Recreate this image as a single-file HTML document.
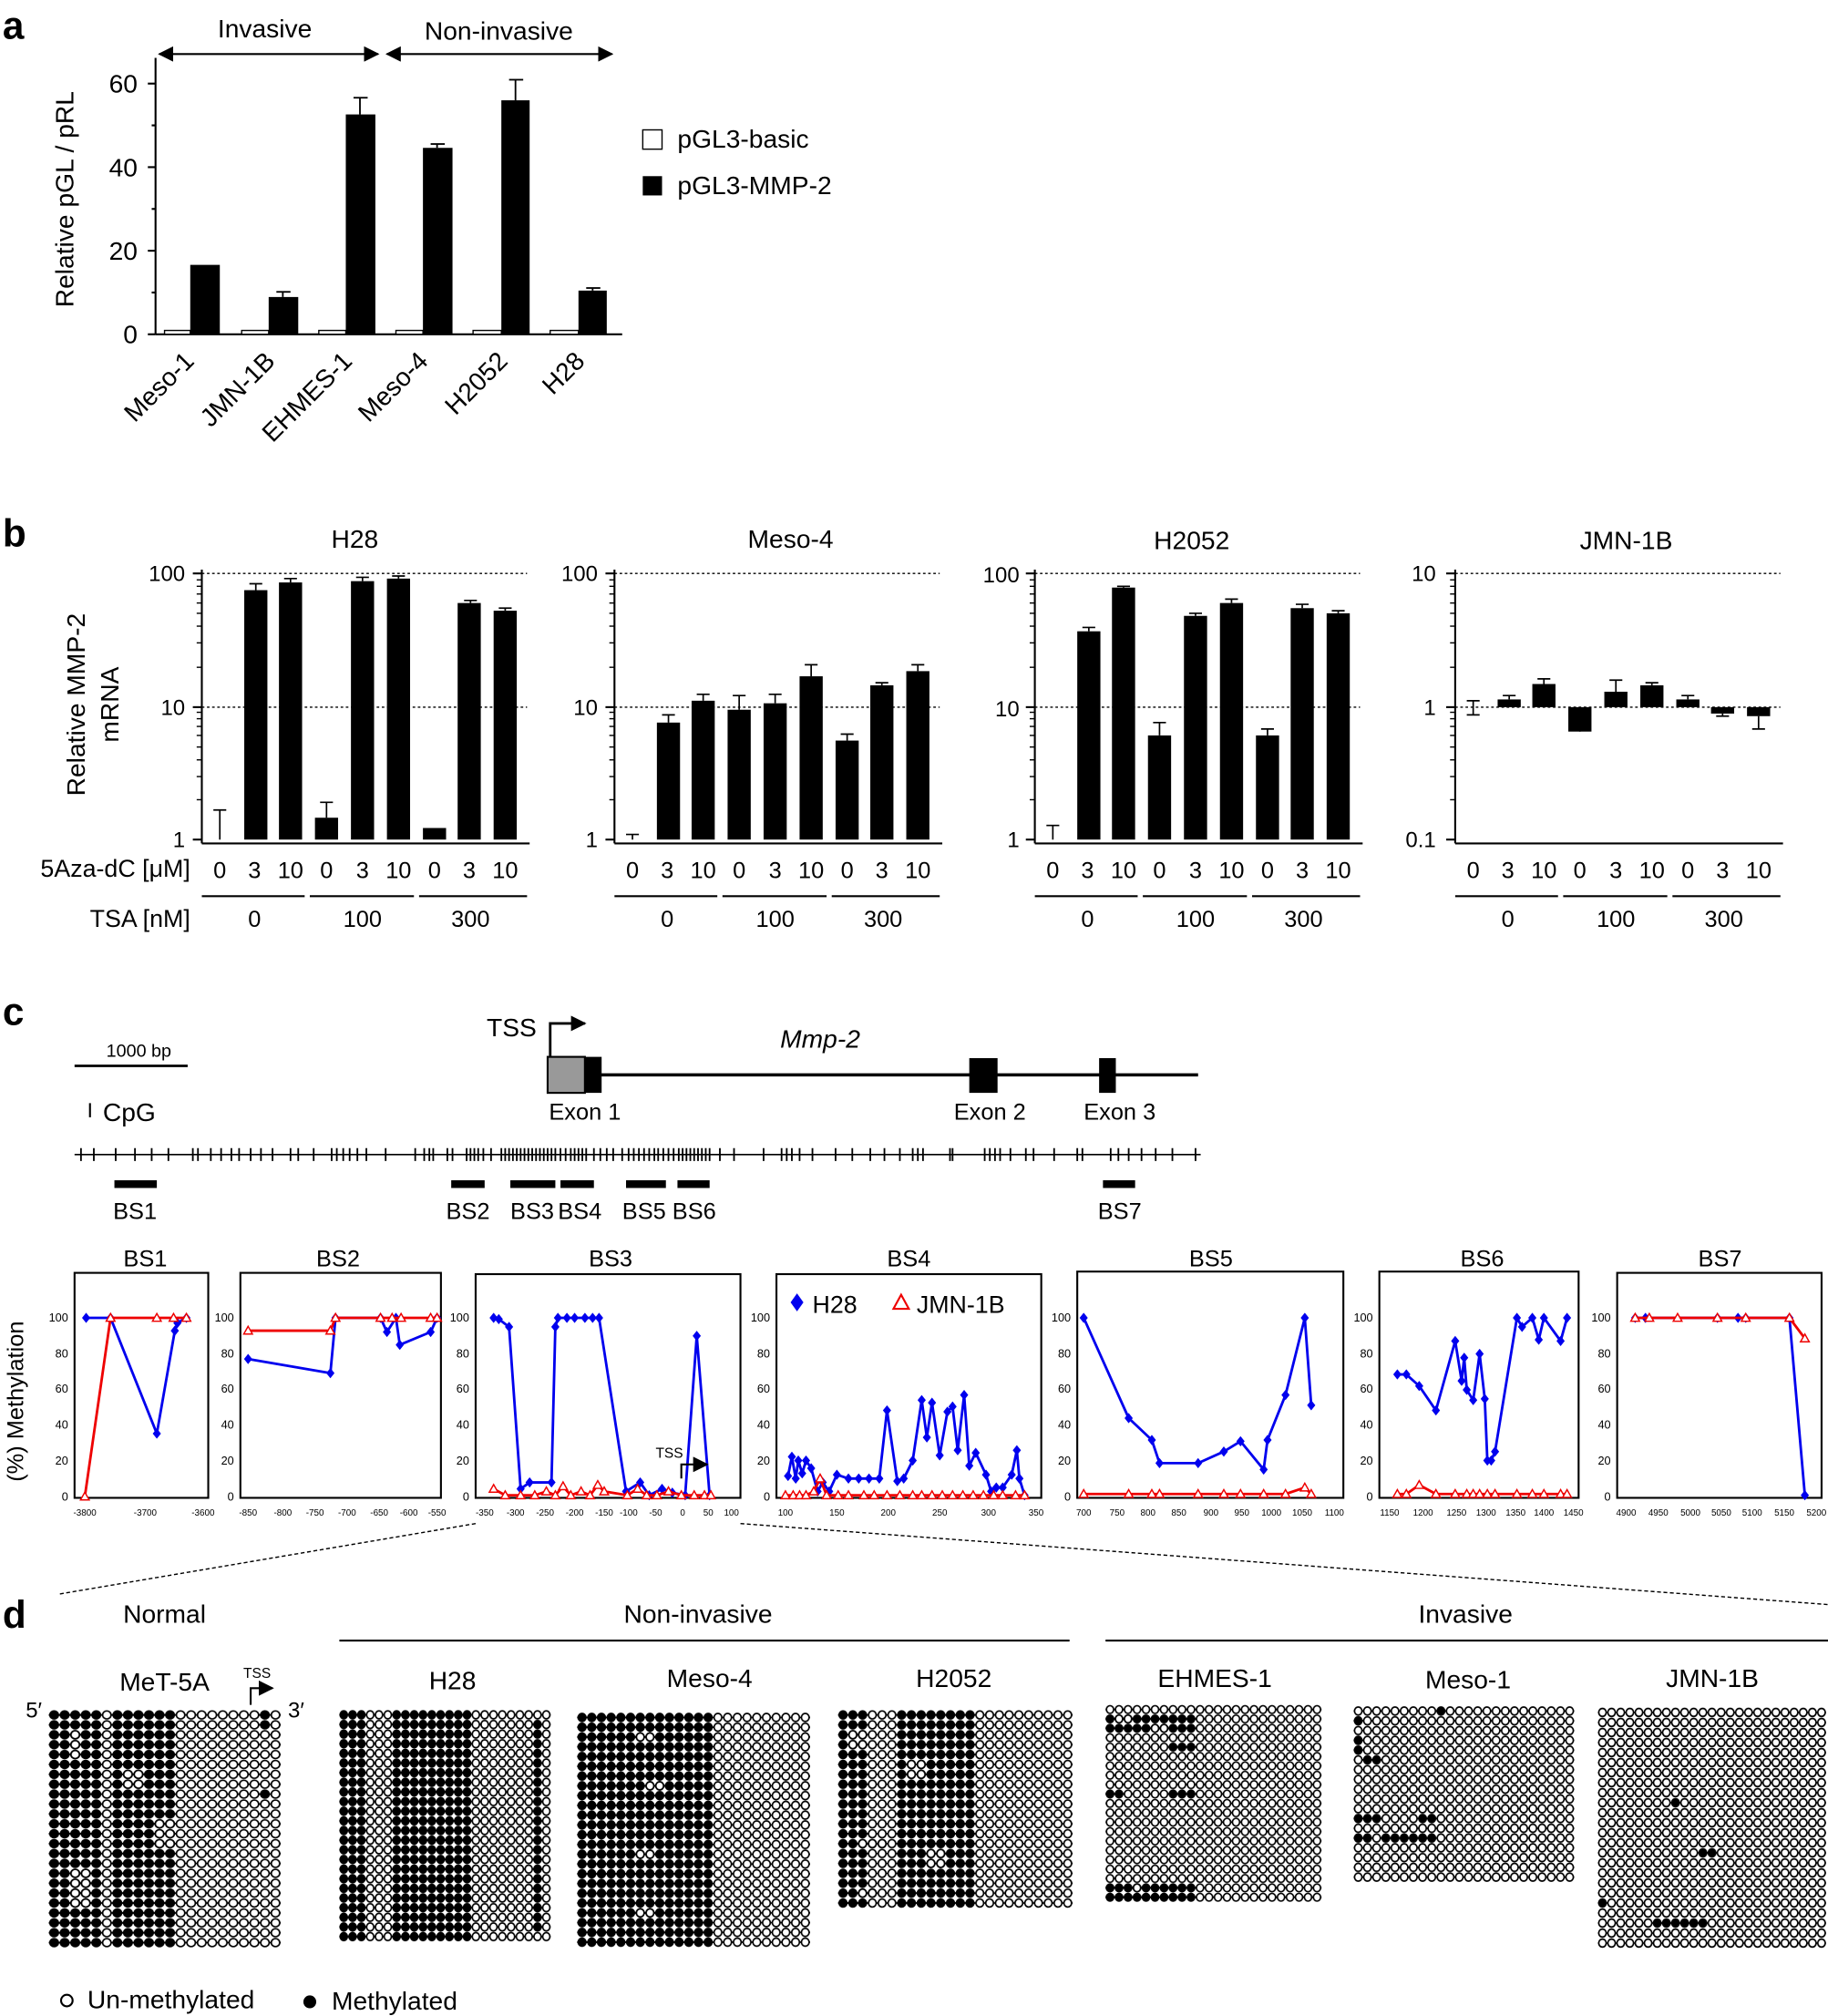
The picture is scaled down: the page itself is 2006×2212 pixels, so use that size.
<!DOCTYPE html>
<html><head><meta charset="utf-8"><style>html,body{margin:0;padding:0;background:#fff}svg{display:block}text{font-family:"Liberation Sans",sans-serif}</style></head><body>
<svg width="2006" height="2212" viewBox="0 0 1422 1568" xmlns="http://www.w3.org/2000/svg">
<defs>
<marker id="dm" viewBox="-5 -5 10 10" markerWidth="8" markerHeight="8" markerUnits="userSpaceOnUse"><path d="M0,-5L4,0L0,5L-4,0Z" fill="#0000ee"/></marker>
<marker id="tm" viewBox="-6 -6 12 12" markerWidth="9" markerHeight="9" markerUnits="userSpaceOnUse"><path d="M0,-4.5L4.5,3.5L-4.5,3.5Z" fill="#fff" stroke="#ee0000" stroke-width="1.4"/></marker>
<marker id="ar" viewBox="0 0 10 10" refX="9" refY="5" markerWidth="12" markerHeight="12" markerUnits="userSpaceOnUse" orient="auto"><path d="M0,0L10,5L0,10Z" fill="#000"/></marker>
<marker id="al" viewBox="0 0 10 10" refX="1" refY="5" markerWidth="12" markerHeight="12" markerUnits="userSpaceOnUse" orient="auto"><path d="M10,0L0,5L10,10Z" fill="#000"/></marker>
</defs>

<!-- panel letters -->
<g font-weight="bold" font-size="30">
<text x="2" y="30">a</text><text x="2" y="425">b</text><text x="2" y="797">c</text><text x="2" y="1266">d</text></g>

<!-- ===== Panel a ===== -->
<g stroke="#000" stroke-width="1.5" fill="none">
<line x1="121" y1="45" x2="121" y2="260"/><line x1="121" y1="260" x2="484" y2="260"/>
<line x1="115" y1="65" x2="121" y2="65"/><line x1="115" y1="130" x2="121" y2="130"/><line x1="115" y1="195" x2="121" y2="195"/><line x1="115" y1="260" x2="121" y2="260"/>
<line x1="118" y1="97.5" x2="121" y2="97.5"/><line x1="118" y1="162.5" x2="121" y2="162.5"/><line x1="118" y1="227.5" x2="121" y2="227.5"/>
<line x1="124" y1="42" x2="294" y2="42" marker-start="url(#al)" marker-end="url(#ar)"/>
<line x1="301" y1="42" x2="476" y2="42" marker-start="url(#al)" marker-end="url(#ar)"/>
</g>
<g font-size="20" text-anchor="end"><text x="107" y="72">60</text><text x="107" y="137">40</text><text x="107" y="202">20</text><text x="107" y="267">0</text></g>
<text x="206" y="29" font-size="20" text-anchor="middle">Invasive</text>
<text x="388" y="31" font-size="20" text-anchor="middle">Non-invasive</text>
<text transform="translate(57,155) rotate(-90)" font-size="20" text-anchor="middle">Relative pGL / pRL</text>
<g fill="#fff" stroke="#000" stroke-width="1">
<rect x="128" y="257" width="20" height="3"/><rect x="188" y="257" width="21" height="3"/><rect x="248" y="257" width="21" height="3"/><rect x="308" y="257" width="21" height="3"/><rect x="368" y="257" width="22" height="3"/><rect x="428" y="257" width="22" height="3"/></g>
<g fill="#000">
<rect x="148" y="206" width="23" height="54"/><rect x="209" y="231" width="23" height="29"/><rect x="269" y="89" width="23" height="171"/><rect x="329" y="115" width="23" height="145"/><rect x="390" y="78" width="22" height="182"/><rect x="450" y="226" width="22" height="34"/></g>
<g stroke="#000" stroke-width="1.3">
<line x1="220" y1="231" x2="220" y2="227"/><line x1="215" y1="227" x2="226" y2="227"/>
<line x1="280" y1="89" x2="280" y2="76"/><line x1="275" y1="76" x2="286" y2="76"/>
<line x1="340" y1="115" x2="340" y2="112"/><line x1="335" y1="112" x2="346" y2="112"/>
<line x1="401" y1="78" x2="401" y2="62"/><line x1="396" y1="62" x2="407" y2="62"/>
<line x1="461" y1="226" x2="461" y2="224"/><line x1="456" y1="224" x2="467" y2="224"/></g>
<g font-size="20" text-anchor="end">
<text transform="translate(152,282) rotate(-45)">Meso-1</text>
<text transform="translate(215,282) rotate(-45)">JMN-1B</text>
<text transform="translate(275,282) rotate(-45)">EHMES-1</text>
<text transform="translate(334,282) rotate(-45)">Meso-4</text>
<text transform="translate(396,282) rotate(-45)">H2052</text>
<text transform="translate(456,282) rotate(-45)">H28</text></g>
<rect x="500" y="101" width="15" height="15" fill="#fff" stroke="#000"/><rect x="500" y="137" width="15" height="15" fill="#000"/>
<text x="527" y="115" font-size="20">pGL3-basic</text><text x="527" y="151" font-size="20">pGL3-MMP-2</text>

<!-- ===== Panel b ===== -->
<text transform="translate(66,548) rotate(-90)" font-size="20" text-anchor="middle">Relative MMP-2</text>
<text transform="translate(92,548) rotate(-90)" font-size="20" text-anchor="middle">mRNA</text>
<g font-size="19" text-anchor="end"><text x="148" y="682">5Aza-dC [μM]</text><text x="148" y="721">TSA [nM]</text></g>
<g font-size="20" text-anchor="middle"><text x="276" y="426">H28</text><text x="615" y="426">Meso-4</text><text x="927" y="427">H2052</text><text x="1265" y="427">JMN-1B</text></g>

<!-- subplot template drawn per offset -->
<g id="sub1">
<g stroke="#000" stroke-width="1" stroke-dasharray="2,2"><line x1="157" y1="446" x2="410" y2="446"/><line x1="157" y1="550" x2="410" y2="550"/></g>
<g stroke="#000" stroke-width="1.5"><line x1="157" y1="443" x2="157" y2="656"/><line x1="157" y1="656" x2="412" y2="656"/>
<line x1="150" y1="446" x2="157" y2="446"/><line x1="150" y1="550" x2="157" y2="550"/><line x1="150" y1="653" x2="157" y2="653"/></g>
<g stroke="#000" stroke-width="1"><line x1="153" y1="519" x2="157" y2="519"/><line x1="153" y1="500" x2="157" y2="500"/><line x1="153" y1="487" x2="157" y2="487"/><line x1="153" y1="477" x2="157" y2="477"/><line x1="153" y1="469" x2="157" y2="469"/><line x1="153" y1="462" x2="157" y2="462"/><line x1="153" y1="456" x2="157" y2="456"/><line x1="153" y1="451" x2="157" y2="451"/>
<line x1="153" y1="622" x2="157" y2="622"/><line x1="153" y1="604" x2="157" y2="604"/><line x1="153" y1="591" x2="157" y2="591"/><line x1="153" y1="581" x2="157" y2="581"/><line x1="153" y1="572" x2="157" y2="572"/><line x1="153" y1="565" x2="157" y2="565"/><line x1="153" y1="559" x2="157" y2="559"/><line x1="153" y1="554" x2="157" y2="554"/></g>
<g stroke="#000" stroke-width="1.5"><line x1="157" y1="697" x2="237" y2="697"/><line x1="241" y1="697" x2="322" y2="697"/><line x1="326" y1="697" x2="410" y2="697"/></g>
<g font-size="18" text-anchor="middle"><text x="171" y="683">0</text><text x="198" y="683">3</text><text x="226" y="683">10</text><text x="254" y="683">0</text><text x="282" y="683">3</text><text x="310" y="683">10</text><text x="338" y="683">0</text><text x="365" y="683">3</text><text x="393" y="683">10</text>
<text x="198" y="721">0</text><text x="282" y="721">100</text><text x="366" y="721">300</text></g>
</g>
<use href="#sub1" x="321"/><use href="#sub1" x="648"/><use href="#sub1" x="975"/>
<g font-size="17" text-anchor="end">
<text x="144" y="452">100</text><text x="144" y="556">10</text><text x="144" y="659">1</text>
<text x="465" y="452">100</text><text x="465" y="556">10</text><text x="465" y="659">1</text>
<text x="793" y="453">100</text><text x="793" y="557">10</text><text x="793" y="659">1</text>
<text x="1117" y="452">10</text><text x="1117" y="556">1</text><text x="1117" y="659">0.1</text></g>
<!-- bars H28 -->
<g fill="#000">
<rect x="190" y="459" width="18" height="194"/><rect x="217" y="453" width="18" height="200"/><rect x="245" y="636" width="18" height="17"/><rect x="273" y="452" width="18" height="201"/><rect x="301" y="450" width="18" height="203"/><rect x="329" y="644" width="18" height="9"/><rect x="356" y="469" width="18" height="184"/><rect x="384" y="475" width="18" height="178"/>
<!-- Meso-4 -->
<rect x="511" y="562" width="18" height="91"/><rect x="538" y="545" width="18" height="108"/><rect x="566" y="552" width="18" height="101"/><rect x="594" y="547" width="18" height="106"/><rect x="622" y="526" width="18" height="127"/><rect x="650" y="576" width="18" height="77"/><rect x="677" y="533" width="18" height="120"/><rect x="705" y="522" width="18" height="131"/>
<!-- H2052 -->
<rect x="838" y="491" width="18" height="162"/><rect x="865" y="457" width="18" height="196"/><rect x="893" y="572" width="18" height="81"/><rect x="921" y="479" width="18" height="174"/><rect x="949" y="469" width="18" height="184"/><rect x="977" y="572" width="18" height="81"/><rect x="1004" y="473" width="18" height="180"/><rect x="1032" y="477" width="18" height="176"/>
<!-- JMN-1B -->
<rect x="1165" y="544" width="18" height="6"/><rect x="1192" y="532" width="18" height="18"/><rect x="1220" y="550" width="18" height="19"/><rect x="1248" y="538" width="18" height="12"/><rect x="1276" y="533" width="18" height="17"/><rect x="1304" y="544" width="18" height="6"/><rect x="1331" y="550" width="18" height="5"/><rect x="1359" y="550" width="18" height="7"/></g>
<g stroke="#000" stroke-width="1.2" fill="none">
<path d="M171,653V630M166,630H176"/><path d="M199,459V454M194,454H204M226,453V450M221,450H231M254,636V624M249,624H259M282,452V449M277,449H287M310,450V448M305,448H315M366,469V467M361,467H371M393,475V473M388,473H398"/>
<path d="M492,653V649M487,649H497M520,562V556M515,556H525M547,545V540M542,540H552M575,552V541M570,541H580M603,547V540M598,540H608M631,526V517M626,517H636M659,576V571M654,571H664M686,533V531M681,531H691M714,522V517M709,517H719"/>
<path d="M819,653V642M814,642H824M847,491V488M842,488H852M874,457V456M869,456H879M902,572V562M897,562H907M930,479V477M925,477H935M958,469V466M953,466H963M986,572V567M981,567H991M1013,473V470M1008,470H1018M1041,477V475M1036,475H1046"/>
<path d="M1146,545V556M1141,545H1151M1141,556H1151M1174,544V541M1169,541H1179M1201,532V528M1196,528H1206M1229,569V566M1224,566H1234M1257,538V529M1252,529H1262M1285,533V531M1280,531H1290M1313,544V541M1308,541H1318M1340,555V557M1335,557H1345M1368,557V567M1363,567H1373"/></g>

<!-- ===== Panel c ===== -->
<line x1="58" y1="829" x2="146" y2="829" stroke="#000" stroke-width="2"/>
<text x="108" y="822" font-size="14" text-anchor="middle">1000 bp</text>
<line x1="70" y1="858" x2="70" y2="869" stroke="#000" stroke-width="1.5"/>
<text x="80" y="872" font-size="20">CpG</text>
<text x="398" y="806" font-size="20" text-anchor="middle">TSS</text>
<path d="M428,822V796H455" stroke="#000" stroke-width="2" fill="none" marker-end="url(#ar)"/>
<line x1="426" y1="836" x2="932" y2="836" stroke="#000" stroke-width="2.5"/>
<rect x="426" y="822" width="29" height="28" fill="#999" stroke="#000" stroke-width="1.5"/><rect x="455" y="822" width="13" height="28" fill="#000"/>
<rect x="754" y="823" width="22" height="27" fill="#000"/><rect x="855" y="823" width="13" height="27" fill="#000"/>
<text x="638" y="815" font-size="20" font-style="italic" text-anchor="middle">Mmp-2</text>
<g font-size="18" text-anchor="middle"><text x="455" y="871">Exon 1</text><text x="770" y="871">Exon 2</text><text x="871" y="871">Exon 3</text></g>
<line x1="58" y1="898" x2="934" y2="898" stroke="#000" stroke-width="1.2"/>
<path stroke="#000" stroke-width="1.3" d="M63,893v10M73,893v10M90,893v10M105,893v10M118,893v10M131,893v10M150,893v10M154,893v10M164,893v10M172,893v10M180,893v10M186,893v10M195,893v10M203,893v10M212,893v10M226,893v10M232,893v10M244,893v10M258,893v10M262,893v10M267,893v10M272,893v10M278,893v10M285,893v10M300,893v10M323,893v10M330,893v10M334,893v10M337,893v10M348,893v10M352,893v10M363,893v10M366,893v10M369,893v10M372,893v10M376,893v10M382,893v10M390,893v10M393,893v10M396,893v10M399,893v10M402,893v10M405,893v10M408,893v10M411,893v10M414,893v10M417,893v10M420,893v10M423,893v10M426,893v10M429,893v10M432,893v10M436,893v10M440,893v10M444,893v10M447,893v10M450,893v10M453,893v10M456,893v10M462,893v10M467,893v10M472,893v10M477,893v10M484,893v10M489,893v10M493,893v10M497,893v10M501,893v10M505,893v10M509,893v10M512,893v10M516,893v10M520,893v10M524,893v10M528,893v10M531,893v10M534,893v10M537,893v10M540,893v10M543,893v10M546,893v10M549,893v10M552,893v10M560,893v10M571,893v10M594,893v10M608,893v10M612,893v10M616,893v10M622,893v10M632,893v10M650,893v10M663,893v10M677,893v10M688,893v10M700,893v10M710,893v10M714,893v10M718,893v10M739,893v10M741,893v10M766,893v10M770,893v10M774,893v10M778,893v10M786,893v10M798,893v10M804,893v10M820,893v10M838,893v10M842,893v10M864,893v10M870,893v10M878,893v10M888,893v10M899,893v10M912,893v10M930,893v10"/>
<g fill="#000"><rect x="89" y="918" width="33" height="6"/><rect x="351" y="918" width="26" height="6"/><rect x="397" y="918" width="35" height="6"/><rect x="436" y="918" width="26" height="6"/><rect x="487" y="918" width="31" height="6"/><rect x="527" y="918" width="25" height="6"/><rect x="858" y="918" width="25" height="6"/></g>
<g font-size="18" text-anchor="middle"><text x="105" y="948">BS1</text><text x="364" y="948">BS2</text><text x="414" y="948">BS3</text><text x="451" y="948">BS4</text><text x="501" y="948">BS5</text><text x="540" y="948">BS6</text><text x="871" y="948">BS7</text></g>
<text transform="translate(18,1090) rotate(-90)" font-size="18" text-anchor="middle">(%) Methylation</text>

<!-- methylation boxes -->
<g font-size="18" text-anchor="middle"><text x="113" y="985">BS1</text><text x="263" y="985">BS2</text><text x="475" y="985">BS3</text><text x="707" y="985">BS4</text><text x="942" y="985">BS5</text><text x="1153" y="985">BS6</text><text x="1338" y="985">BS7</text></g>
<g fill="none" stroke="#000" stroke-width="1.5">
<rect x="58" y="990" width="104" height="175"/><rect x="187" y="990" width="156" height="175"/><rect x="370" y="991" width="206" height="174"/><rect x="604" y="991" width="206" height="174"/><rect x="838" y="989" width="207" height="176"/><rect x="1073" y="989" width="155" height="176"/><rect x="1258" y="990" width="159" height="175"/></g>
<g id="yt" font-size="9" text-anchor="end"><text x="53" y="1167">0</text><text x="53" y="1139">20</text><text x="53" y="1111">40</text><text x="53" y="1083">60</text><text x="53" y="1056">80</text><text x="53" y="1028">100</text></g>
<use href="#yt" x="129"/><use href="#yt" x="312"/><use href="#yt" x="546"/><use href="#yt" x="780"/><use href="#yt" x="1015"/><use href="#yt" x="1200"/>
<g font-size="7" text-anchor="middle">
<text x="66" y="1179">-3800</text><text x="113" y="1179">-3700</text><text x="158" y="1179">-3600</text>
<text x="193" y="1179">-850</text><text x="220" y="1179">-800</text><text x="245" y="1179">-750</text><text x="270" y="1179">-700</text><text x="295" y="1179">-650</text><text x="318" y="1179">-600</text><text x="340" y="1179">-550</text>
<text x="377" y="1179">-350</text><text x="401" y="1179">-300</text><text x="424" y="1179">-250</text><text x="447" y="1179">-200</text><text x="470" y="1179">-150</text><text x="489" y="1179">-100</text><text x="510" y="1179">-50</text><text x="531" y="1179">0</text><text x="551" y="1179">50</text><text x="569" y="1179">100</text>
<text x="611" y="1179">100</text><text x="651" y="1179">150</text><text x="691" y="1179">200</text><text x="731" y="1179">250</text><text x="769" y="1179">300</text><text x="806" y="1179">350</text>
<text x="843" y="1179">700</text><text x="869" y="1179">750</text><text x="893" y="1179">800</text><text x="917" y="1179">850</text><text x="942" y="1179">900</text><text x="966" y="1179">950</text><text x="989" y="1179">1000</text><text x="1013" y="1179">1050</text><text x="1038" y="1179">1100</text>
<text x="1081" y="1179">1150</text><text x="1107" y="1179">1200</text><text x="1133" y="1179">1250</text><text x="1156" y="1179">1300</text><text x="1179" y="1179">1350</text><text x="1201" y="1179">1400</text><text x="1224" y="1179">1450</text>
<text x="1265" y="1179">4900</text><text x="1290" y="1179">4950</text><text x="1315" y="1179">5000</text><text x="1339" y="1179">5050</text><text x="1363" y="1179">5100</text><text x="1388" y="1179">5150</text><text x="1413" y="1179">5200</text></g>

<g fill="none" stroke-width="2" stroke-linejoin="round">
<!-- BS1 -->
<polyline stroke="#0000ee" marker-start="url(#dm)" marker-mid="url(#dm)" marker-end="url(#dm)" points="67,1025 86,1025 122,1115 136,1035 138,1029 145,1025"/>
<polyline stroke="#ee0000" marker-start="url(#tm)" marker-mid="url(#tm)" marker-end="url(#tm)" points="66,1164 86,1025 122,1025 135,1025 145,1025"/>
<!-- BS2 -->
<polyline stroke="#0000ee" marker-start="url(#dm)" marker-mid="url(#dm)" marker-end="url(#dm)" points="193,1057 257,1068 261,1025 296,1025 301,1036 308,1025 311,1046 335,1036 340,1025"/>
<polyline stroke="#ee0000" marker-start="url(#tm)" marker-mid="url(#tm)" marker-end="url(#tm)" points="193,1035 257,1035 261,1025 296,1025 305,1025 312,1025 335,1025 340,1025"/>
<!-- BS3 -->
<polyline stroke="#0000ee" marker-start="url(#dm)" marker-mid="url(#dm)" marker-end="url(#dm)" points="384,1025 388,1026 396,1032 405,1158 412,1153 429,1153 432,1032 434,1025 441,1025 447,1025 455,1025 461,1025 466,1025 487,1160 498,1153 505,1163 515,1158 523,1161 533,1163 542,1039 552,1163"/>
<polyline stroke="#ee0000" marker-start="url(#tm)" marker-mid="url(#tm)" marker-end="url(#tm)" points="384,1158 393,1163 405,1163 416,1163 425,1160 432,1163 438,1156 444,1163 452,1160 459,1163 465,1155 470,1160 488,1163 496,1158 503,1163 511,1163 520,1160 530,1163 540,1163 548,1163 553,1163"/>
<!-- BS4 -->
<polyline stroke="#0000ee" marker-start="url(#dm)" marker-mid="url(#dm)" marker-end="url(#dm)" points="613,1148 616,1133 619,1150 621,1136 624,1146 627,1136 631,1142 636,1160 640,1153 645,1160 651,1147 660,1150 668,1150 676,1150 684,1150 690,1097 698,1152 703,1150 710,1136 717,1089 721,1118 725,1091 731,1132 737,1098 741,1094 745,1128 750,1085 754,1140 759,1130 767,1147 771,1160 775,1157 780,1157 787,1147 791,1128 793,1150 797,1163"/>
<polyline stroke="#ee0000" marker-start="url(#tm)" marker-mid="url(#tm)" marker-end="url(#tm)" points="611,1163 617,1163 622,1163 627,1163 633,1160 638,1150 643,1163 652,1163 660,1163 672,1163 680,1163 690,1163 700,1163 710,1163 717,1163 725,1163 733,1163 741,1163 749,1163 757,1163 765,1163 773,1163 780,1163 790,1163 797,1163"/>
<!-- BS5 -->
<polyline stroke="#0000ee" marker-start="url(#dm)" marker-mid="url(#dm)" marker-end="url(#dm)" points="843,1025 878,1103 896,1120 902,1138 932,1138 952,1129 965,1121 983,1143 986,1120 1000,1085 1015,1025 1020,1093"/>
<polyline stroke="#ee0000" marker-start="url(#tm)" marker-mid="url(#tm)" marker-end="url(#tm)" points="843,1162 878,1162 896,1162 902,1162 932,1162 952,1162 965,1162 983,1162 1000,1162 1015,1157 1020,1162"/>
<!-- BS6 -->
<polyline stroke="#0000ee" marker-start="url(#dm)" marker-mid="url(#dm)" marker-end="url(#dm)" points="1087,1069 1094,1069 1104,1078 1117,1097 1132,1043 1137,1074 1139,1056 1141,1081 1146,1089 1151,1053 1155,1088 1157,1136 1160,1136 1163,1129 1180,1025 1184,1032 1192,1025 1197,1042 1201,1025 1214,1043 1219,1025"/>
<polyline stroke="#ee0000" marker-start="url(#tm)" marker-mid="url(#tm)" marker-end="url(#tm)" points="1087,1162 1094,1162 1104,1155 1117,1162 1132,1162 1141,1162 1146,1162 1151,1162 1157,1162 1163,1162 1180,1162 1192,1162 1201,1162 1214,1162 1219,1162"/>
<!-- BS7 -->
<polyline stroke="#0000ee" marker-start="url(#dm)" marker-mid="url(#dm)" marker-end="url(#dm)" points="1272,1025 1280,1025 1336,1025 1352,1025 1358,1025 1392,1025 1404,1163"/>
<polyline stroke="#ee0000" marker-start="url(#tm)" marker-mid="url(#tm)" marker-end="url(#tm)" points="1272,1025 1283,1025 1305,1025 1336,1025 1358,1025 1392,1025 1404,1041"/>
</g>
<path d="M620,1006L625,1013L620,1020L615,1013Z" fill="#0000ee"/><text x="632" y="1021" font-size="19">H28</text>
<path d="M701,1007L707,1018L695,1018Z" fill="none" stroke="#ee0000" stroke-width="1.5"/><text x="713" y="1021" font-size="19">JMN-1B</text>
<text x="510" y="1134" font-size="11">TSS</text>
<path d="M530,1150V1139H550" stroke="#000" stroke-width="1.5" fill="none" marker-end="url(#ar)"/>
<g stroke="#000" stroke-width="1" stroke-dasharray="3,2"><line x1="370" y1="1185" x2="45" y2="1240"/><line x1="576" y1="1185" x2="1422" y2="1248"/></g>

<!-- ===== Panel d ===== -->
<g font-size="20" text-anchor="middle"><text x="128" y="1262">Normal</text><text x="543" y="1262">Non-invasive</text><text x="1140" y="1262">Invasive</text>
<text x="128" y="1315">MeT-5A</text><text x="352" y="1314">H28</text><text x="552" y="1312">Meso-4</text><text x="742" y="1312">H2052</text><text x="945" y="1312">EHMES-1</text><text x="1142" y="1313">Meso-1</text><text x="1332" y="1312">JMN-1B</text></g>
<g stroke="#000" stroke-width="1.5"><line x1="264" y1="1276" x2="832" y2="1276"/><line x1="860" y1="1276" x2="1422" y2="1276"/></g>
<text x="20" y="1336" font-size="17">5′</text><text x="224" y="1336" font-size="17">3′</text>
<text x="200" y="1305" font-size="11" text-anchor="middle">TSS</text>
<path d="M195,1326V1313H212" stroke="#000" stroke-width="1.5" fill="none" marker-end="url(#ar)"/>

<defs>
<pattern id="o1" patternUnits="userSpaceOnUse" x="38" y="1330" width="8.2" height="7.7"><line x1="0" y1="3.85" x2="8.2" y2="3.85" stroke="#000" stroke-width="1.2"/><ellipse cx="4.1" cy="3.85" rx="3.3" ry="3.1" fill="#fff" stroke="#000" stroke-width="1.2"/></pattern>
<pattern id="f1" patternUnits="userSpaceOnUse" x="38" y="1330" width="8.2" height="7.7"><line x1="0" y1="3.85" x2="8.2" y2="3.85" stroke="#000" stroke-width="1.2"/><ellipse cx="4.1" cy="3.85" rx="3.6" ry="3.4" fill="#000"/></pattern>
<pattern id="o2" patternUnits="userSpaceOnUse" x="264" y="1330" width="6.85" height="7.5"><line x1="0" y1="3.75" x2="6.85" y2="3.75" stroke="#000" stroke-width="1.2"/><ellipse cx="3.42" cy="3.75" rx="2.8" ry="3.1" fill="#fff" stroke="#000" stroke-width="1.2"/></pattern>
<pattern id="f2" patternUnits="userSpaceOnUse" x="264" y="1330" width="6.85" height="7.5"><line x1="0" y1="3.75" x2="6.85" y2="3.75" stroke="#000" stroke-width="1.2"/><ellipse cx="3.42" cy="3.75" rx="3.2" ry="3.4" fill="#000"/></pattern>
<pattern id="o3" patternUnits="userSpaceOnUse" x="449" y="1332" width="7.55" height="7.6"><line x1="0" y1="3.8" x2="7.55" y2="3.8" stroke="#000" stroke-width="1.2"/><ellipse cx="3.77" cy="3.8" rx="3" ry="3.1" fill="#fff" stroke="#000" stroke-width="1.2"/></pattern>
<pattern id="f3" patternUnits="userSpaceOnUse" x="449" y="1332" width="7.55" height="7.6"><line x1="0" y1="3.8" x2="7.55" y2="3.8" stroke="#000" stroke-width="1.2"/><ellipse cx="3.77" cy="3.8" rx="3.5" ry="3.4" fill="#000"/></pattern>
<pattern id="o4" patternUnits="userSpaceOnUse" x="652" y="1330" width="7.6" height="7.7"><line x1="0" y1="3.85" x2="7.6" y2="3.85" stroke="#000" stroke-width="1.2"/><ellipse cx="3.8" cy="3.85" rx="3" ry="3.1" fill="#fff" stroke="#000" stroke-width="1.2"/></pattern>
<pattern id="f4" patternUnits="userSpaceOnUse" x="652" y="1330" width="7.6" height="7.7"><line x1="0" y1="3.85" x2="7.6" y2="3.85" stroke="#000" stroke-width="1.2"/><ellipse cx="3.8" cy="3.85" rx="3.5" ry="3.4" fill="#000"/></pattern>
<pattern id="o5" patternUnits="userSpaceOnUse" x="860" y="1326" width="7" height="7.3"><line x1="0" y1="3.65" x2="7" y2="3.65" stroke="#000" stroke-width="1.2"/><ellipse cx="3.5" cy="3.65" rx="2.8" ry="3" fill="#fff" stroke="#000" stroke-width="1.2"/></pattern>
<pattern id="f5" patternUnits="userSpaceOnUse" x="860" y="1326" width="7" height="7.3"><line x1="0" y1="3.65" x2="7" y2="3.65" stroke="#000" stroke-width="1.2"/><ellipse cx="3.5" cy="3.65" rx="3.3" ry="3.3" fill="#000"/></pattern>
<pattern id="o6" patternUnits="userSpaceOnUse" x="1053" y="1327" width="7.15" height="7.6"><line x1="0" y1="3.8" x2="7.15" y2="3.8" stroke="#000" stroke-width="1.2"/><ellipse cx="3.57" cy="3.8" rx="2.9" ry="3.1" fill="#fff" stroke="#000" stroke-width="1.2"/></pattern>
<pattern id="f6" patternUnits="userSpaceOnUse" x="1053" y="1327" width="7.15" height="7.6"><line x1="0" y1="3.8" x2="7.15" y2="3.8" stroke="#000" stroke-width="1.2"/><ellipse cx="3.57" cy="3.8" rx="3.3" ry="3.4" fill="#000"/></pattern>
<pattern id="o7" patternUnits="userSpaceOnUse" x="1243" y="1328" width="7.1" height="7.8"><line x1="0" y1="3.9" x2="7.1" y2="3.9" stroke="#000" stroke-width="1.2"/><ellipse cx="3.55" cy="3.9" rx="2.9" ry="3.1" fill="#fff" stroke="#000" stroke-width="1.2"/></pattern>
<pattern id="f7" patternUnits="userSpaceOnUse" x="1243" y="1328" width="7.1" height="7.8"><line x1="0" y1="3.9" x2="7.1" y2="3.9" stroke="#000" stroke-width="1.2"/><ellipse cx="3.55" cy="3.9" rx="3.3" ry="3.4" fill="#000"/></pattern>
</defs>
<!-- MeT-5A -->
<rect x="38" y="1330" width="180.4" height="184.8" fill="url(#o1)"/>
<rect x="38" y="1330" width="41" height="184.8" fill="url(#f1)"/><rect x="87.2" y="1330" width="49.2" height="184.8" fill="url(#f1)"/>
<rect x="54.4" y="1345.4" width="8.2" height="23.1" fill="url(#o1)"/><rect x="95.4" y="1376.2" width="16.4" height="15.4" fill="url(#o1)"/><rect x="54.4" y="1453.2" width="16.4" height="30.8" fill="url(#o1)"/><rect x="120" y="1414.7" width="16.4" height="23.1" fill="url(#o1)"/>
<rect x="201.8" y="1330" width="8.2" height="15.4" fill="url(#f1)"/><rect x="201.8" y="1391.6" width="8.2" height="7.7" fill="url(#f1)"/>
<!-- H28 -->
<rect x="264" y="1330" width="164.4" height="180" fill="url(#o2)"/>
<rect x="264" y="1330" width="20.55" height="180" fill="url(#f2)"/><rect x="305.1" y="1330" width="61.65" height="180" fill="url(#f2)"/><rect x="414.7" y="1337.5" width="6.85" height="165" fill="url(#f2)"/>
<!-- Meso-4 -->
<rect x="449" y="1332" width="181.2" height="182.4" fill="url(#o3)"/>
<rect x="449" y="1332" width="105.7" height="182.4" fill="url(#f3)"/>
<rect x="494.3" y="1347.2" width="15.1" height="7.6" fill="url(#o3)"/><rect x="501.85" y="1385.2" width="15.1" height="7.6" fill="url(#o3)"/><rect x="494.3" y="1438.4" width="15.1" height="7.6" fill="url(#o3)"/><rect x="494.3" y="1484" width="15.1" height="7.6" fill="url(#o3)"/>
<!-- H2052 -->
<rect x="652" y="1330" width="182.4" height="154" fill="url(#o4)"/>
<rect x="652" y="1330" width="22.8" height="154" fill="url(#f4)"/><rect x="697.6" y="1330" width="60.8" height="154" fill="url(#f4)"/>
<rect x="659.6" y="1345.4" width="15.2" height="15.4" fill="url(#o4)"/><rect x="705.2" y="1368.5" width="15.2" height="15.4" fill="url(#o4)"/><rect x="667.2" y="1430.1" width="22.8" height="7.7" fill="url(#o4)"/><rect x="720.4" y="1437.8" width="15.2" height="15.4" fill="url(#o4)"/><rect x="667.2" y="1468.6" width="15.2" height="7.7" fill="url(#o4)"/>
<!-- EHMES-1 -->
<rect x="860" y="1326" width="168" height="153.3" fill="url(#o5)"/>
<rect x="860" y="1333.3" width="70" height="14.6" fill="url(#f5)"/><rect x="867" y="1333.3" width="14" height="7.3" fill="url(#o5)"/><rect x="895" y="1340.6" width="14" height="7.3" fill="url(#o5)"/>
<rect x="909" y="1355.2" width="21" height="7.3" fill="url(#f5)"/><rect x="860" y="1391.7" width="14" height="7.3" fill="url(#f5)"/><rect x="909" y="1391.7" width="21" height="7.3" fill="url(#f5)"/>
<rect x="860" y="1464.7" width="70" height="14.6" fill="url(#f5)"/><rect x="881" y="1464.7" width="7" height="7.3" fill="url(#o5)"/>
<!-- Meso-1 -->
<rect x="1053" y="1327" width="171.6" height="136.8" fill="url(#o6)"/>
<rect x="1117.35" y="1327" width="7.15" height="7.6" fill="url(#f6)"/><rect x="1053" y="1334.6" width="7.15" height="7.6" fill="url(#f6)"/><rect x="1053" y="1349.8" width="7.15" height="15.2" fill="url(#f6)"/><rect x="1060.15" y="1365" width="14.3" height="7.6" fill="url(#f6)"/>
<rect x="1053" y="1410.6" width="21.45" height="7.6" fill="url(#f6)"/><rect x="1103" y="1410.6" width="14.3" height="7.6" fill="url(#f6)"/><rect x="1053" y="1425.8" width="14.3" height="7.6" fill="url(#f6)"/><rect x="1074.45" y="1425.8" width="42.9" height="7.6" fill="url(#f6)"/>
<!-- JMN-1B -->
<rect x="1243" y="1328" width="177.5" height="187.2" fill="url(#o7)"/>
<rect x="1285.6" y="1492" width="42.6" height="7.8" fill="url(#f7)"/><rect x="1300" y="1398.2" width="7.1" height="7.8" fill="url(#f7)"/><rect x="1321.1" y="1437.2" width="14.2" height="7.8" fill="url(#f7)"/><rect x="1243" y="1476.2" width="7.1" height="7.8" fill="url(#f7)"/>

<circle cx="52" cy="1556" r="4.5" fill="#fff" stroke="#000" stroke-width="1.5"/><text x="68" y="1562" font-size="20">Un-methylated</text>
<circle cx="241" cy="1557" r="5" fill="#000"/><text x="258" y="1563" font-size="20">Methylated</text>
</svg>
</body></html>
